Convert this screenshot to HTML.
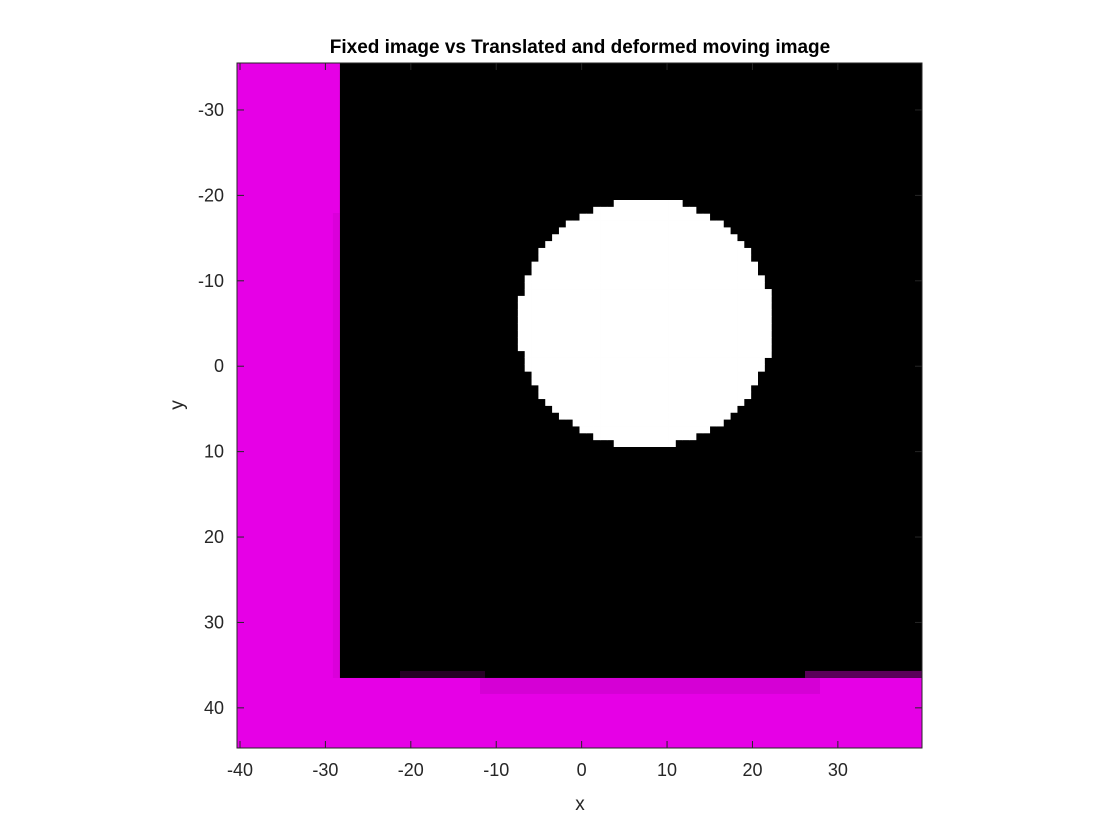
<!DOCTYPE html>
<html><head><meta charset="utf-8"><style>
html,body{margin:0;padding:0;background:#fff;}
svg{display:block;font-family:"Liberation Sans",Arial,sans-serif;}
</style></head><body>
<svg id="chart" width="1120" height="840" viewBox="0 0 1120 840">
<rect x="0" y="0" width="1120" height="840" fill="#fff"/>
<g id="plot"></g>
<g id="axes"></g>
<text x="580" y="53" text-anchor="middle" font-size="19" font-weight="bold" fill="#000">Fixed image vs Translated and deformed moving image</text>
<text x="580" y="810" text-anchor="middle" font-size="19" fill="#262626">x</text>
<text x="183" y="405" text-anchor="middle" font-size="19" fill="#262626" transform="rotate(-90 183 405)">y</text>
</svg>
<script>
const xTicks=[-40,-30,-20,-10,0,10,20,30];
const yTicks=[-30,-20,-10,0,10,20,30,40];
const xDomain=[-40.35,39.85];
const yDomain=[-35.5,44.7];
const circleCenter=[7.4,-5.1];
const circleRadius=[14.9,14.5];
const magentaEdgeX=[-28.3];
const magentaEdgeY=[36.5];

const L=237,R=922,T=63,B=748;
const sx=v=>L+(v-xDomain[0])/(xDomain[1]-xDomain[0])*(R-L);
const sy=v=>T+(v-yDomain[0])/(yDomain[1]-yDomain[0])*(B-T);
const NS="http://www.w3.org/2000/svg";
function mk(tag,attrs,parent){const e=document.createElementNS(NS,tag);for(const k in attrs)e.setAttribute(k,attrs[k]);parent.appendChild(e);return e;}
const plot=document.getElementById('plot'),axes=document.getElementById('axes');

let e=mk('rect',{x:L,y:T,width:R-L,height:B-T,fill:'#e600e6'},plot);


const ex=sx(magentaEdgeX[0]),ey=sy(magentaEdgeY[0]);
e=mk('rect',{x:ex,y:T,width:R-ex,height:ey-T,fill:'#000'},plot);


e=mk('rect',{x:ex-7,y:T+150,width:7,height:ey-T-150,fill:'#c000c0',opacity:0.3},plot);


e=mk('rect',{x:480,y:ey,width:340,height:16,fill:'#b000b0',opacity:0.3},plot);


e=mk('rect',{x:400,y:ey-7,width:85,height:7,fill:'#400040',opacity:0.6},plot);


e=mk('rect',{x:805,y:ey-7,width:R-805,height:7,fill:'#800080',opacity:0.7},plot);



const cell=6.85;
const cx=sx(circleCenter[0]),cy=sy(circleCenter[1]);
const rx=circleRadius[0]*(R-L)/(xDomain[1]-xDomain[0]),ry=circleRadius[1]*(B-T)/(yDomain[1]-yDomain[0]);
const cg=mk('g',{},plot);


for(let px=cx-rx-cell;px<cx+rx+cell;px+=cell){
  for(let py=cy-ry-cell;py<cy+ry+cell;py+=cell){
    const gx=L+Math.floor((px-L)/cell)*cell,gy=T+Math.floor((py-T)/cell)*cell;
    const dx=(gx+cell/2-cx)/rx,dy=(gy+cell/2-cy)/ry;
    if(dx*dx+dy*dy<=1){mk('rect',{x:gx,y:gy,width:cell+0.4,height:cell+0.4,fill:'#fff'},cg);}
  }
}

e=mk('rect',{x:L,y:T,width:R-L,height:B-T,fill:'none',stroke:'#262626','stroke-width':1},axes);


xTicks.forEach(v=>{const x=sx(v);
  mk('line',{x1:x,y1:B,x2:x,y2:B-7,stroke:'#262626'},axes);
  mk('line',{x1:x,y1:T,x2:x,y2:T+7,stroke:'#262626'},axes);
  const t=mk('text',{x:x,y:B+28,'text-anchor':'middle','font-size':18,fill:'#262626'},axes);
  t.textContent=v;
  
  
});
yTicks.forEach(v=>{const y=sy(v);
  mk('line',{x1:L,y1:y,x2:L+7,y2:y,stroke:'#262626'},axes);
  mk('line',{x1:R,y1:y,x2:R-7,y2:y,stroke:'#262626'},axes);
  const t=mk('text',{x:L-13,y:y+6,'text-anchor':'end','font-size':18,fill:'#262626'},axes);
  t.textContent=v;
  
  
});
</script>
</body></html>
